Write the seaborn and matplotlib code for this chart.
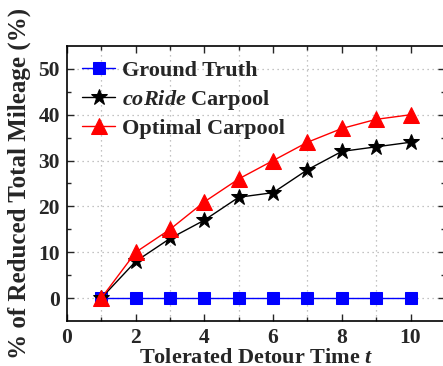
import numpy as np
import pandas as pd
import matplotlib
matplotlib.use("Agg")
import matplotlib.pyplot as plt
from matplotlib.ticker import MultipleLocator
import seaborn as sns

detour = [1, 2, 3, 4, 5, 6, 7, 8, 9, 10]
ground_truth = [0, 0, 0, 0, 0, 0, 0, 0, 0, 0]
coride = [0, 8, 13, 17, 22, 23, 28, 32, 33, 34]
optimal = [0, 10, 15, 21, 26, 30, 34, 37, 39, 40]

series_names = ["Ground Truth", "coRide Carpool", "Optimal Carpool"]
legend_labels = ["Ground Truth", r"$coRide$ Carpool", "Optimal Carpool"]

df = pd.DataFrame({
    "t": detour * 3,
    "value": ground_truth + coride + optimal,
    "method": sum([[n] * len(detour) for n in series_names], []),
})

sns.set_theme(style="white")
plt.rcParams["font.family"] = ["Liberation Serif", "DejaVu Serif"]
plt.rcParams["font.weight"] = "bold"
plt.rcParams["mathtext.fontset"] = "custom"
plt.rcParams["mathtext.it"] = "Liberation Serif:italic:bold"
plt.rcParams["mathtext.rm"] = "Liberation Serif:bold"

fig = plt.figure(figsize=(4.43, 3.66), dpi=100)
ax = fig.add_axes([0.1512, 0.123, 0.8530, 0.7513])

palette = {"Ground Truth": "#0000ff", "coRide Carpool": "#000000", "Optimal Carpool": "#ff0000"}
markers = {"Ground Truth": "s", "coRide Carpool": "*", "Optimal Carpool": "^"}
sizes = {"Ground Truth": 9, "coRide Carpool": 12, "Optimal Carpool": 12}

for name in series_names:
    sub = df[df["method"] == name]
    sns.lineplot(data=sub, x="t", y="value", ax=ax, color=palette[name],
                 marker=markers[name], markersize=sizes[name],
                 markeredgecolor=palette[name], linewidth=1.0,
                 label=name, zorder=3)

ax.set_xlim(0, 11)
ax.set_ylim(-5, 55)
ax.set_xticks([0, 2, 4, 6, 8, 10])
ax.set_xticks(detour, minor=True)
ax.yaxis.set_major_locator(MultipleLocator(10))
ax.set_yticks([5, 15, 25, 35, 45], minor=True)

grid_style = dict(color="#b0b0b0", linestyle=(0, (1, 3)), linewidth=0.9)
ax.grid(True, which="major", axis="y", **grid_style)
ax.grid(True, which="minor", axis="x", **grid_style)

ax.tick_params(which="both", direction="in", top=True, right=True,
               bottom=True, left=True, width=1.0, labelsize=15.5, pad=5)
ax.tick_params(which="major", length=5)
ax.tick_params(which="minor", length=3)
for lab in ax.get_xticklabels() + ax.get_yticklabels():
    lab.set_fontweight("bold")

for s in ax.spines.values():
    s.set_color("black")
    s.set_linewidth(1.2)

ax.set_xlabel(r"Tolerated Detour Time $t$", fontsize=16, fontweight="bold", labelpad=0)
ax.set_ylabel("% of Reduced Total Mileage (%)", fontsize=18, fontweight="bold", labelpad=5)

handles, _ = ax.get_legend_handles_labels()
leg = ax.legend(handles, legend_labels, loc="upper left", frameon=False,
                prop={"weight": "bold", "size": 16}, handlelength=1.5,
                handletextpad=0.3, labelspacing=0.3, borderaxespad=0.0,
                bbox_to_anchor=(0.016, 0.98))

fig.savefig("out.png", dpi=100)
